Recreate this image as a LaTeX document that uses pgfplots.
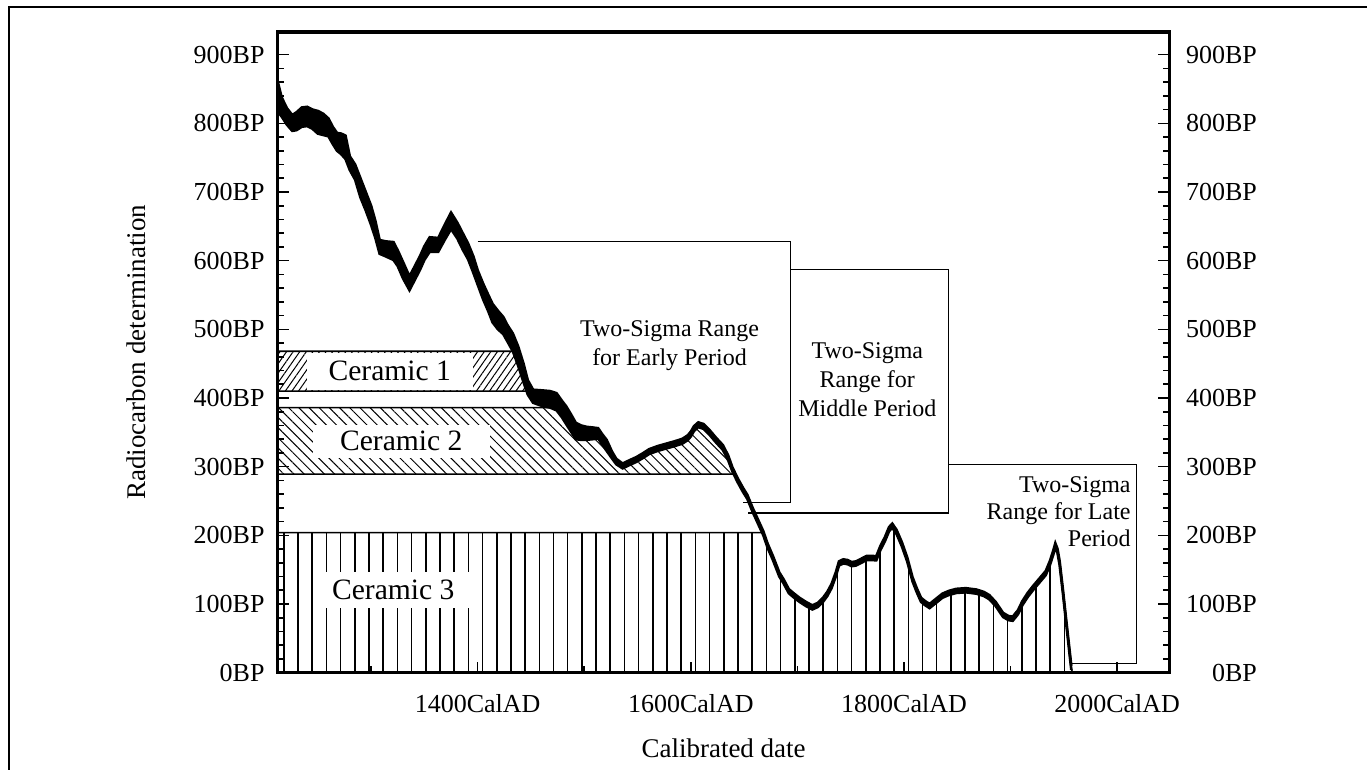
\documentclass[border=0pt]{standalone}
\usepackage{pgfplots}
\pgfplotsset{compat=1.18}
\usepackage{pgfplotstable}
\usepgfplotslibrary{fillbetween}
\usetikzlibrary{patterns.meta}
\usepackage{fontspec}
\setmainfont{Liberation Serif}

% calibration curve band: year, lower edge, upper edge (BP)
\pgfplotstableread{
x lo hi
1212.5 817 860
1216 810 838
1221 798 822
1226 789 812
1230 790 816
1235 795 823
1240 796 824
1245 792 820
1250 785 818
1255 783 814
1260 781 807
1264 770 795
1268 760 786
1272 755 785
1276 748 782
1280 732 752
1285 718 740
1290 692 720
1295 673 700
1300 652 680
1304 633 658
1308 610 630
1314 606 628
1321 601 627
1325 592 615
1330 574 598
1336 557 577
1341 572 592
1346 587 607
1350 601 621
1355 613 634
1363 613 633
1369 630 652
1375 646 670
1381 632 655
1386 616 640
1391 602 625
1396 582 606
1400 565 586
1405 544 567
1410 526 550
1414 510 537
1419 500 527
1424 493 518
1428 482 506
1433 468 494
1438 447 475
1443 423 450
1447 405 426
1452 393 412
1461 388 411
1468 386 410
1474 382 407
1479 372 396
1483 362 388
1488 350 375
1492 340 364
1497 339 360
1502 339 358
1508 340 357
1513 341 356
1517 332 347
1521 323 339
1526 312 322
1530 303.5 311.5
1536 297.5 304.5
1542 302 309
1549 307 314
1555 312.5 319.5
1561 318.5 325.5
1569 323 330
1577 326.5 333.5
1585 330 337
1592 333.5 340.5
1597 338.5 345.5
1600 344 351
1603 352 359
1607 357.5 364.5
1612 355 362
1618 345.5 352.5
1624 334.5 341.5
1630 324.5 331.5
1635 309.5 316.5
1639 293 299
1644 277 283
1649 263 269
1653 253 259
1658 234 240
1663 217 223
1668 200 206
1672 182 188
1677 164 170
1683 140 146
1687 130 136
1692 115.5 121.5
1697 109 115
1702 103 109
1708 97 103
1714 92 98
1719 95.5 101.5
1724 103 109
1728 111.5 117.5
1732 123 129
1736 140 146
1739 156 162
1743 159 165
1747 158 164
1751 155 161
1755 156 162
1760 160 166
1765 164 170
1770 164 170
1774 163.5 169.5
1778 179 185
1782 191 197
1786 206 212
1789 211 217
1793 202 208
1798 184 190
1803 162 168
1808 133 139
1812 117 123
1816 103 109
1820 98 104
1824 94 100
1830 101.5 107.5
1836 109 115
1842 113 119
1849 116 122
1858 117 123
1868 115 121
1875 111.5 117.5
1880 107 113
1886 97 103
1893 81 87
1898 76.5 82.5
1902 75.5 81.5
1907 85 91
1911 98 104
1916 110 116
1921 120 126
1927 131 137
1933 142 148
1937 157 163
1940 171.5 177.5
1942 182.5 188.5
1944 174.5 180.5
1946 157 163
1949 117 123
1952 74 80
1955 32 38
1957 4 10
}\curvetab

\begin{document}
\begin{tikzpicture}
\path (0,0) rectangle (684pt,385pt);
\draw[line width=0.75pt] (4.5pt,0) -- (4.5pt,381.5pt) -- (684pt,381.5pt);

\begin{axis}[
  at={(139pt,48.5pt)}, anchor=south west,
  width=446pt, height=320.5pt, scale only axis,
  xmin=1212.5, xmax=2049, ymin=0, ymax=933,
  axis line style={line width=1.6pt},
  xtick={1400,1600,1800,2000},
  xticklabels={1400CalAD,1600CalAD,1800CalAD,2000CalAD},
  minor xtick={1300,1500,1700,1900},
  xtick pos=bottom,
  ytick={0,100,200,300,400,500,600,700,800,900},
  yticklabels={0BP,100BP,200BP,300BP,400BP,500BP,600BP,700BP,800BP,900BP},
  minor y tick num=4,
  ytick pos=both,
  yticklabel pos=left,
  tick align=inside,
  major tick length=5.5pt, minor tick length=3.3pt,
  every tick/.style={black, line width=0.8pt},
  tick label style={font=\fontsize{13}{15}\selectfont},
  yticklabel style={anchor=east, inner sep=0pt, xshift=-6.5pt},
  xticklabel style={anchor=base, inner sep=0pt, yshift=-20pt},
  xlabel={Calibrated date},
  ylabel={Radiocarbon determination},
  label style={font=\fontsize{13.5}{16}\selectfont},
  xlabel style={at={(axis description cs:0.5,0)}, anchor=base, yshift=-42.5pt},
  ylabel style={at={(axis description cs:-0.148,0.5)}, anchor=base},
]
% Ceramic 3 (vertical lines, under the curve)
\addplot[draw=black, line width=0.8pt, pattern={Lines[angle=90,distance=7.1pt,line width=0.8pt]}]
 coordinates {(1212.5,0) (1212.5,204) (1667.7,204) (1668,203) (1672,185) (1677,167) (1683,143)
 (1687,133) (1692,118.5) (1697,112) (1702,106) (1708,100) (1714,95) (1719,98.5) (1724,106)
 (1728,114.5) (1732,126) (1736,143) (1739,159) (1743,162) (1747,161) (1751,158) (1755,159)
 (1760,163) (1765,167) (1770,167) (1774,166.5) (1778,182) (1782,194) (1786,209) (1789,214)
 (1793,205) (1798,187) (1803,165) (1808,136) (1812,120) (1816,106) (1820,101) (1824,97)
 (1830,104.5) (1836,112) (1842,116) (1849,119) (1858,120) (1868,118) (1875,114.5) (1880,110)
 (1886,100) (1893,84) (1898,79.5) (1902,78.5) (1907,88) (1911,101) (1916,113) (1921,123)
 (1927,134) (1933,145) (1937,160) (1940,174.5) (1942,185.5) (1944,177.5) (1946,160) (1949,120)
 (1952,77) (1955,35) (1957,7) (1958,0)} -- cycle;
% Ceramic 2
\addplot[draw=black, line width=0.8pt, pattern={Lines[angle=-45,distance=3.6pt,line width=0.5pt]}]
 coordinates {(1212.5,289) (1212.5,386) (1478.5,386) (1479,384) (1483,375.5) (1488,362.5)
 (1492,351.5) (1497,349.5) (1502,348.5) (1508,348.5) (1513,349) (1517,339.5) (1521,331.5)
 (1526,317.5) (1530,307.5) (1536,301) (1542,305.5) (1549,310) (1555,316) (1561,322)
 (1569,326.5) (1577,330) (1585,333.5) (1592,337) (1597,342) (1600,347.5) (1603,355.5)
 (1607,361) (1612,358.5) (1618,349) (1624,338) (1630,328) (1635,313) (1639,296) (1641,289)} -- cycle;
% Ceramic 1
\addplot[draw=black, line width=0.8pt, pattern={Lines[angle=55,distance=2.7pt,line width=0.5pt]}]
 coordinates {(1212.5,410) (1212.5,468) (1436.5,468) (1438,461.5) (1443,436.5) (1447,415) (1449,410)} -- cycle;

\node[fill=white, minimum width=83pt, minimum height=18.6pt, inner sep=0pt,
  font=\fontsize{14.8}{16}\selectfont] at (axis cs:1317.5,439) {Ceramic 1};
\node[fill=white, minimum width=88.5pt, minimum height=16.5pt, inner sep=0pt,
  font=\fontsize{14.8}{16}\selectfont] at (axis cs:1328.3,337) {Ceramic 2};
\node[fill=white, minimum width=75.5pt, minimum height=18pt, inner sep=0pt,
  font=\fontsize{14.8}{16}\selectfont] at (axis cs:1320.8,120.8) {Ceramic 3};

% two-sigma range brackets
\addplot[black, line width=0.6pt] coordinates {(1400,628) (1693.2,628) (1693.2,248) (1648.7,248)};
\addplot[black, line width=0.6pt] coordinates {(1693.2,587.5) (1841.6,587.5) (1841.6,232.5) (1653.4,232.5)};
\addplot[black, line width=0.6pt] coordinates {(1841.6,302.8) (2018.5,302.8) (2018.5,13) (1956.6,13)};

\node[align=center, font=\fontsize{12}{14.2}\selectfont] at (axis cs:1580,476) {Two-Sigma Range\\for Early Period};
\node[align=center, font=\fontsize{12}{14.4}\selectfont] at (axis cs:1765.6,426.5) {Two-Sigma\\Range for\\Middle Period};
\node[align=right, anchor=east, inner sep=0pt, font=\fontsize{12}{13.6}\selectfont] at (axis cs:2013,234) {Two-Sigma\\Range for Late\\Period};

% calibration curve band
\addplot[name path=hi, black, line width=1.3pt] table[x=x, y=hi] {\curvetab};
\addplot[name path=lo, black, line width=1.3pt] table[x=x, y=lo] {\curvetab};
\addplot[black] fill between[of=hi and lo];
\end{axis}

\begin{axis}[
  at={(139pt,48.5pt)}, anchor=south west,
  width=446pt, height=320.5pt, scale only axis,
  xmin=1212.5, xmax=2049, ymin=0, ymax=933,
  hide x axis,
  axis y line*=right,
  axis line style={draw=none},
  ytick={0,100,200,300,400,500,600,700,800,900},
  yticklabels={0BP,100BP,200BP,300BP,400BP,500BP,600BP,700BP,800BP,900BP},
  ytick style={draw=none},
  tick label style={font=\fontsize{13}{15}\selectfont},
  yticklabel style={anchor=east, inner sep=0pt, xshift=44pt},
]
\addplot[draw=none] coordinates {(1212.5,0) (2049,933)};
\end{axis}
\end{tikzpicture}
\end{document}
